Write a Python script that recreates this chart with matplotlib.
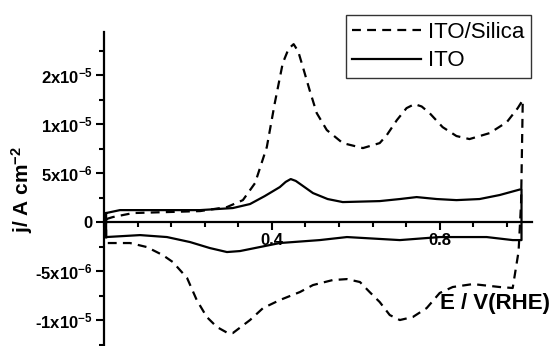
import numpy as np
import matplotlib
matplotlib.use('Agg')
import matplotlib.pyplot as plt
from matplotlib.ticker import FixedLocator, MultipleLocator

# --------- 데이터 (E / V, j / 1e-6 A cm^-2) ---------
# ITO/Silica : 정방향 (낮은 E -> 높은 E)
silica_e_fwd = [0.005, 0.021, 0.069, 0.150, 0.229, 0.293, 0.331, 0.360, 0.388, 0.407,
                0.426, 0.440, 0.452, 0.463, 0.474, 0.490, 0.507, 0.531, 0.569, 0.617,
                0.657, 0.674, 0.698, 0.721, 0.740, 0.757, 0.776, 0.807, 0.840, 0.871,
                0.919, 0.960, 0.986, 0.998]
silica_j_fwd = [0.3, 0.51, 0.92, 1.02, 1.12, 1.53, 2.24, 3.98, 7.65, 12.14,
                16.22, 17.7, 18.16, 17.4, 15.82, 13.47, 11.12, 9.39, 8.06, 7.55,
                8.06, 8.88, 10.41, 11.63, 12.04, 11.8, 11.12, 9.69, 8.78, 8.47,
                9.08, 10.20, 11.63, 12.45]
# ITO/Silica : 역방향 (높은 E -> 낮은 E)
silica_e_rev = [0.994, 0.988, 0.974, 0.943, 0.879, 0.831, 0.800, 0.769, 0.736, 0.705,
                0.681, 0.657, 0.633, 0.610, 0.579, 0.545, 0.498, 0.467, 0.419, 0.379,
                0.348, 0.307, 0.295, 0.269, 0.245, 0.221, 0.198, 0.164, 0.140, 0.102,
                0.062, 0.021, 0.005]
silica_j_rev = [2.0, -3.0, -6.73, -6.63, -6.33, -6.63, -7.24, -8.78, -9.69, -10.00,
                -9.49, -8.16, -7.14, -6.12, -5.82, -5.92, -6.43, -7.14, -7.96, -8.78,
                -10.00, -11.33, -11.33, -10.71, -9.69, -7.96, -5.71, -4.08, -3.37, -2.55,
                -2.14, -2.14, -2.14]

# ITO
ito_e_fwd = [0.005, 0.038, 0.133, 0.229, 0.307, 0.348, 0.383, 0.419, 0.433, 0.445,
             0.457, 0.471, 0.498, 0.533, 0.569, 0.657, 0.705, 0.745, 0.793, 0.840,
             0.895, 0.943, 0.995]
ito_j_fwd = [0.92, 1.22, 1.22, 1.22, 1.43, 1.84, 2.65, 3.57, 4.1, 4.39,
             4.2, 3.78, 2.96, 2.35, 2.04, 2.14, 2.35, 2.55, 2.35, 2.24,
             2.35, 2.76, 3.37]
ito_e_rev = [0.995, 0.974, 0.912, 0.800, 0.705, 0.579, 0.514, 0.419, 0.324, 0.293,
             0.252, 0.205, 0.150, 0.086, 0.005]
ito_j_rev = [-1.84, -1.84, -1.53, -1.53, -1.84, -1.53, -1.84, -2.14, -2.96, -3.06,
             -2.65, -2.04, -1.53, -1.33, -1.53]

ytick_vals = [-10e-6, -5e-6, 0, 5e-6, 10e-6, 15e-6]
ytick_labels = ['-1x10$^{-5}$', '-5x10$^{-6}$', '0',
                '5x10$^{-6}$', '1x10$^{-5}$', '2x10$^{-5}$']
xtick_vals = [0.4, 0.8]
xtick_labels = ['0.4', '0.8']

# --------- 스타일 ---------
plt.rcParams['font.family'] = ['Liberation Sans', 'DejaVu Sans']
plt.rcParams['mathtext.fontset'] = 'custom'
plt.rcParams['mathtext.rm'] = 'Liberation Sans:bold'
plt.rcParams['mathtext.bf'] = 'Liberation Sans:bold'
plt.rcParams['mathtext.default'] = 'bf'


def closed(e_fwd, j_fwd, e_rev, j_rev):
    e = np.array(e_fwd + e_rev + e_fwd[:1])
    j = np.array(j_fwd + j_rev + j_fwd[:1]) * 1e-6
    return e, j


fig = plt.figure(figsize=(5.51, 3.46), dpi=100)
ax = fig.add_axes([104 / 551, 0.0, 428 / 551, 1 - 32 / 346])

e, j = closed(silica_e_fwd, silica_j_fwd, silica_e_rev, silica_j_rev)
ax.plot(e, j, color='black', lw=1.6, linestyle=(0, (4, 2.8)), label='ITO/Silica',
        solid_joinstyle='round', dash_joinstyle='round')
e, j = closed(ito_e_fwd, ito_j_fwd, ito_e_rev, ito_j_rev)
ax.plot(e, j, color='black', lw=1.6, label='ITO', solid_joinstyle='round')

ax.set_xlim(0, 1.02)
ax.set_ylim(-12.65e-6, 19.4e-6)

# 축 (x축은 y=0 위치)
ax.spines['top'].set_visible(False)
ax.spines['right'].set_visible(False)
ax.spines['bottom'].set_position(('data', 0))
ax.spines['left'].set_linewidth(1.6)
ax.spines['bottom'].set_linewidth(1.6)

ax.set_yticks(ytick_vals)
ax.set_yticklabels(ytick_labels, fontsize=12, fontweight='bold')
ax.yaxis.set_minor_locator(FixedLocator([-12.5e-6, -7.5e-6, -2.5e-6, 2.5e-6, 7.5e-6, 12.5e-6, 17.5e-6]))
ax.set_xticks(xtick_vals)
ax.set_xticklabels(xtick_labels, fontsize=12, fontweight='bold')
ax.xaxis.set_minor_locator(MultipleLocator(0.08))
ax.tick_params(which='major', direction='out', length=6, width=1.5, pad=2)
ax.tick_params(which='minor', direction='out', length=3.5, width=1.5)

fig.text(22 / 551, 1 - 190 / 346, 'j/ A cm$^{-2}$', rotation=90, fontsize=15,
         fontweight='bold', ha='center', va='center')
fig.text(440 / 551, 1 - 303 / 346, 'E / V(RHE)', fontsize=16, fontweight='bold',
         ha='left', va='center')

leg = ax.legend(loc='upper right', bbox_to_anchor=(531 / 551, 1 - 15 / 346),
                bbox_transform=fig.transFigure, borderaxespad=0, fontsize=16,
                fancybox=False, frameon=True, handlelength=3.1, handletextpad=0.3,
                borderpad=0.3, labelspacing=0.35)
leg.get_frame().set_edgecolor('black')
leg.get_frame().set_linewidth(1.0)

fig.savefig('out.png', dpi=100)
